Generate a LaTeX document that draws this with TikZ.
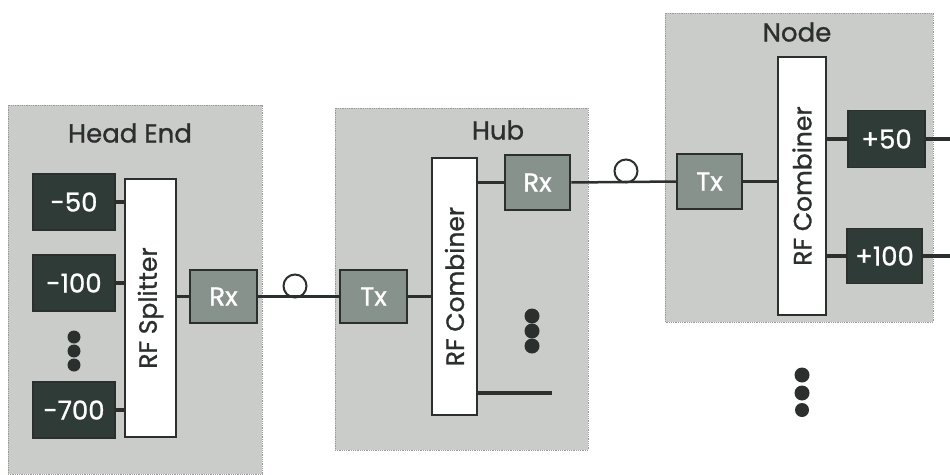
\documentclass[tikz,border=0pt]{standalone}
\usepackage{fontspec}
\setmainfont{Poppins}[UprightFeatures={FakeBold=1}]
\definecolor{panelgray}{HTML}{C9CCC9}
\definecolor{darkbox}{HTML}{2F3B36}
\definecolor{midbox}{HTML}{87928D}
\definecolor{linec}{HTML}{2B2F2D}
\begin{document}
\begin{tikzpicture}[x=1pt,y=-1pt,
  panel/.style={fill=panelgray,draw=gray!80,line width=0.8pt,densely dotted},
  title/.style={font=\fontsize{26}{26}\selectfont,text=linec},
  chan/.style={fill=darkbox,draw=linec,line width=1.5pt,text=white,font=\fontsize{26}{26}\selectfont,inner sep=0pt,minimum width=82pt,minimum height=56pt},
  txrx/.style={fill=midbox,draw=linec,line width=2.5pt,text=white,font=\fontsize{26}{26}\selectfont,inner sep=0pt},
  rfbox/.style={fill=white,draw=linec,line width=2.5pt,inner sep=0pt},
  rflabel/.style={rotate=90,font=\fontsize{25}{25}\selectfont,text=linec},
  wire/.style={draw=linec,line width=3.5pt},
  fiber/.style={draw=linec,line width=2.5pt},
  loopc/.style={draw=linec,line width=2pt},
  dot/.style={fill=linec}]
\useasboundingbox (0,0) rectangle (950,474);
% panels
\path[panel] (8,105) rectangle (262,474);
\path[panel] (335,108) rectangle (588,450);
\path[panel] (665,13) rectangle (933,322);
\node[title] (het) at (130,133) {Head End};
\node[title] (hubt) at (498,130) {Hub};
\node[title] (nodet) at (797,32) {Node};
% Head End
\node[chan] (m50) at (74,202) {-50};
\node[chan] (m100) at (74,283) {-100};
\node[chan] (m700) at (74,410) {-700};
\node[rfbox,minimum width=51pt,minimum height=258pt] (spl) at (150.5,308) {};
\node[rflabel] (splt) at (spl.center) {RF Splitter};
\node[txrx,minimum width=67pt,minimum height=53pt] (rx1) at (223.5,296.5) {Rx};
\fill[dot] (74,337) circle (6.5pt);
\fill[dot] (74,351) circle (6.5pt);
\fill[dot] (74,365) circle (6.5pt);
\draw[wire] (m50.east) -- (m50.east -| spl.west);
\draw[wire] (m100.east) -- (m100.east -| spl.west);
\draw[wire] (m700.east) -- (m700.east -| spl.west);
\draw[wire] (rx1.west -| spl.east) -- (rx1.west);
% Hub
\node[rfbox,minimum width=45pt,minimum height=257pt] (comb1) at (454.5,286.5) {};
\node[rflabel] (comb1t) at (comb1.center) {RF Combiner};
\node[txrx,minimum width=65pt,minimum height=55pt] (rx2) at (537.5,182.5) {Rx};
\node[txrx,minimum width=67pt,minimum height=53pt] (tx1) at (373.5,296.5) {Tx};
\fill[dot] (532,316) circle (7.5pt);
\fill[dot] (532,331) circle (7.5pt);
\fill[dot] (532,346) circle (7.5pt);
\coordinate (hubend) at (552,393);
\draw[wire] (tx1.east) -- (tx1.east -| comb1.west);
\draw[wire] (rx2.west -| comb1.east) -- (rx2.west);
\draw[wire] (hubend -| comb1.east) -- (hubend);
\draw[fiber] (rx1.east) -- (tx1.west);
\draw[loopc] (295,286) circle (11.5pt);
% Node
\node[rfbox,minimum width=48pt,minimum height=258pt] (comb2) at (802,186) {};
\node[rflabel] (comb2t) at (comb2.center) {RF Combiner};
\node[txrx,minimum width=65pt,minimum height=55pt] (tx2) at (709.5,181.5) {Tx};
\node[chan,minimum width=77pt,minimum height=57pt] (p50) at (886.5,139) {+50};
\node[chan,minimum width=75pt,minimum height=55pt] (p100) at (884.5,256) {+100};
\coordinate (out1) at (950,139);
\coordinate (out2) at (950,256);
\draw[wire] (tx2.east) -- (tx2.east -| comb2.west);
\draw[wire] (p50.west -| comb2.east) -- (p50.west);
\draw[wire] (p100.west -| comb2.east) -- (p100.west);
\draw[wire] (p50.east) -- (out1);
\draw[wire] (p100.east) -- (out2);
\draw[fiber] (rx2.east) -- (tx2.west);
\draw[loopc] (626,171) circle (11.5pt);
\fill[dot] (802,375) circle (7.5pt);
\fill[dot] (802,393) circle (7.5pt);
\fill[dot] (802,410) circle (7pt);
\end{tikzpicture}
\end{document}
